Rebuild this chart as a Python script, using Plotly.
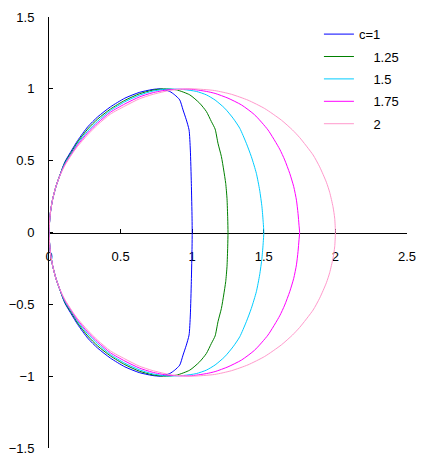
import plotly.graph_objects as go

# Series names (legend labels) and colours
names = ["c=1", "\u00a0\u00a0\u00a0\u00a01.25", "\u00a0\u00a0\u00a0\u00a01.5",
         "\u00a0\u00a0\u00a0\u00a01.75", "\u00a0\u00a0\u00a0\u00a02"]
colors = ["#0000FF", "#008000", "#00CCFF", "#FF00FF", "#FF99CC"]

# Upper half of each curve (origin -> (c, 0))
x_c100 = [0, 0.01, 0.025, 0.05, 0.08, 0.11, 0.16, 0.2, 0.27, 0.34, 0.43, 0.53, 0.63, 0.72,
          0.78, 0.843, 0.878, 0.913, 0.936, 0.959, 0.978, 0.987, 0.994, 0.999, 1.0]
y_c100 = [0, 0.14, 0.23, 0.325, 0.41, 0.49, 0.575, 0.64, 0.735, 0.805, 0.875, 0.935, 0.975, 0.995,
          1.0, 0.982, 0.958, 0.923, 0.853, 0.784, 0.714, 0.574, 0.342, 0.1, 0]

x_c125 = [0, 0.01, 0.025, 0.05, 0.08, 0.11, 0.16, 0.2, 0.27, 0.34, 0.43, 0.53, 0.63, 0.72,
          0.8, 0.89, 0.983, 1.052, 1.099, 1.134, 1.16, 1.18, 1.204, 1.22, 1.234, 1.243, 1.248, 1.25]
y_c125 = [0, 0.14, 0.23, 0.325, 0.41, 0.485, 0.565, 0.63, 0.72, 0.79, 0.86, 0.92, 0.965, 0.99,
          1.0, 0.993, 0.958, 0.9, 0.842, 0.772, 0.72, 0.621, 0.528, 0.435, 0.342, 0.237, 0.1, 0]

x_c150 = [0, 0.01, 0.025, 0.05, 0.08, 0.11, 0.16, 0.2, 0.27, 0.34, 0.43, 0.53, 0.63, 0.72,
          0.82, 0.94, 1.029, 1.099, 1.16, 1.227, 1.285, 1.332, 1.378, 1.413, 1.448, 1.471, 1.487, 1.496, 1.5]
y_c150 = [0, 0.14, 0.23, 0.325, 0.408, 0.48, 0.555, 0.62, 0.705, 0.775, 0.85, 0.91, 0.955, 0.983,
          0.998, 0.995, 0.982, 0.958, 0.922, 0.865, 0.796, 0.726, 0.621, 0.528, 0.412, 0.295, 0.179, 0.07, 0]

x_c175 = [0, 0.01, 0.025, 0.05, 0.08, 0.11, 0.16, 0.2, 0.27, 0.34, 0.43, 0.53, 0.63, 0.72,
          0.83, 0.983, 1.099, 1.16, 1.25, 1.344, 1.436, 1.529, 1.611, 1.646, 1.681, 1.709, 1.728, 1.739, 1.746, 1.75]
y_c175 = [0, 0.14, 0.23, 0.325, 0.406, 0.472, 0.55, 0.61, 0.693, 0.762, 0.838, 0.895, 0.943, 0.972,
          0.993, 0.998, 0.982, 0.968, 0.935, 0.888, 0.819, 0.714, 0.58, 0.505, 0.412, 0.319, 0.225, 0.133, 0.05, 0]

x_c200 = [0, 0.01, 0.025, 0.05, 0.08, 0.11, 0.16, 0.2, 0.27, 0.34, 0.43, 0.53, 0.63, 0.72,
          0.85, 1.0, 1.157, 1.274, 1.39, 1.506, 1.623, 1.7, 1.751, 1.844, 1.89, 1.937, 1.96, 1.983, 1.995, 2.0]
y_c200 = [0, 0.14, 0.23, 0.325, 0.405, 0.465, 0.545, 0.6, 0.68, 0.75, 0.825, 0.88, 0.93, 0.96,
          0.99, 1.0, 0.988, 0.962, 0.921, 0.863, 0.782, 0.714, 0.66, 0.54, 0.457, 0.35, 0.28, 0.18, 0.1, 0]

xs = [x_c100, x_c125, x_c150, x_c175, x_c200]
ys = [y_c100, y_c125, y_c150, y_c175, y_c200]

# Axis ticks
x_ticks = [0, 0.5, 1, 1.5, 2, 2.5]
x_ticklabels = ["0", "0.5", "1", "1.5", "2", "2.5"]
y_ticks = [-1.5, -1, -0.5, 0, 0.5, 1, 1.5]
y_ticklabels = ["\u22121.5", "\u22121", "\u22120.5", "0", "0.5", "1", "1.5"]

fig = go.Figure()
for i, (xu, yu) in enumerate(zip(xs, ys)):
    # the curve is symmetric about y = 0: upper half, then its mirror image
    xx = list(xu) + list(reversed(xu))[1:]
    yy = list(yu) + [-v for v in reversed(yu)][1:]
    fig.add_trace(go.Scatter(x=xx, y=yy, mode="lines", name=names[i],
                             legendgroup="g%d" % i,
                             line=dict(color=colors[i], width=1,
                                       shape="spline", smoothing=0.6)))

font = dict(family="Liberation Sans, Arial, sans-serif", size=13, color="black")

fig.update_layout(
    width=428, height=465,
    margin=dict(l=49, r=21, t=17, b=17, autoexpand=False),
    paper_bgcolor="white", plot_bgcolor="white",
    font=font,
    showlegend=True,
    legend=dict(x=0.754, y=0.995, xanchor="left", yanchor="top",
                bgcolor="rgba(0,0,0,0)", font=font, tracegroupgap=2.5,
                itemwidth=30),
    xaxis=dict(range=[0, 2.5], tickvals=x_ticks, ticktext=x_ticklabels,
               showgrid=False, zeroline=False, showline=True, linecolor="black",
               linewidth=1, ticks="inside", ticklen=4, tickcolor="black",
               anchor="free", position=0.5, layer="below traces",
               ticklabelstandoff=12, fixedrange=True, automargin=False),
    yaxis=dict(range=[-1.5, 1.5], tickvals=y_ticks, ticktext=y_ticklabels,
               showgrid=False, zeroline=False, showline=True, linecolor="black",
               linewidth=1, ticks="inside", ticklen=4, tickcolor="black",
               layer="below traces", ticklabelstandoff=11, fixedrange=True,
               automargin=False),
)

# remove the page's default body margin so the figure fills the window exactly
fig.write_html("out.html",
               config={"displayModeBar": False},
               post_script="document.body.style.margin='0';"
                           "document.body.style.overflow='hidden';")
